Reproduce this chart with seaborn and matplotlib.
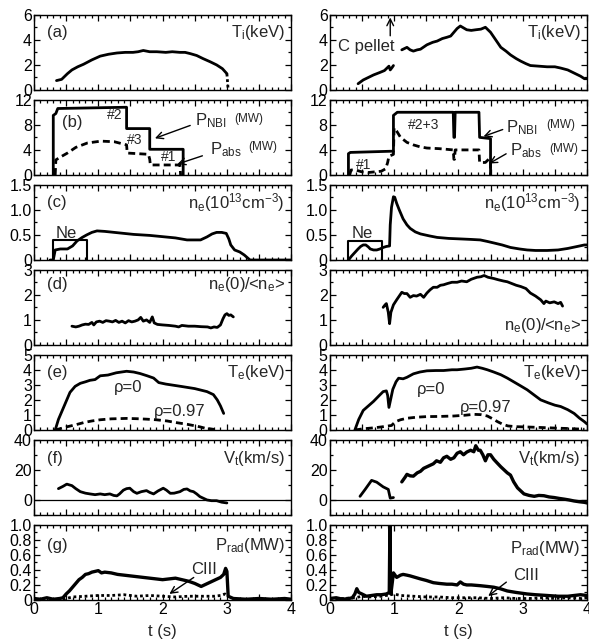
import matplotlib

matplotlib.use("Agg")
import matplotlib.pyplot as plt
import seaborn as sns
from matplotlib.ticker import FuncFormatter, MultipleLocator

sns.set_theme(style="ticks")
plt.rcParams["font.family"] = ["Liberation Sans", "DejaVu Sans"]
plt.rcParams["mathtext.fontset"] = "custom"
plt.rcParams["mathtext.rm"] = "Liberation Sans"
plt.rcParams["mathtext.it"] = "Liberation Sans:italic"

# ---------------- left shot ----------------
L_TI_T = [0.35, 0.43, 0.52, 0.59, 0.68, 0.77, 0.90, 1.03, 1.16, 1.29, 1.42, 1.54, 1.62, 1.70,
          1.80, 1.91, 2.05, 2.15, 2.27, 2.35, 2.43, 2.53, 2.63, 2.74, 2.84, 2.93, 3.00]
L_TI = [0.75, 0.85, 1.3, 1.6, 1.85, 2.05, 2.4, 2.7, 2.85, 2.95, 3.0, 3.0, 3.05, 3.15,
        3.05, 3.05, 3.0, 3.05, 3.0, 3.0, 2.9, 2.75, 2.5, 2.25, 2.0, 1.7, 1.3]
L_TI_END_T = [3.00, 3.02]
L_TI_END = [1.3, 0.0]

L_NBI_T = [0.30, 0.30, 0.34, 0.37, 1.44, 1.44, 1.80, 1.80, 2.32, 2.32]
L_NBI = [0.0, 9.5, 9.8, 10.6, 10.8, 7.4, 7.4, 4.1, 4.1, 0.0]
L_ABS_T = [0.33, 0.34, 0.40, 0.52, 0.65, 0.83, 1.04, 1.25, 1.44, 1.45, 1.78, 1.80, 1.81, 2.27, 2.28]
L_ABS = [0.0, 2.4, 2.8, 3.5, 4.4, 5.1, 5.4, 5.3, 4.8, 3.5, 3.3, 2.5, 1.6, 1.6, 0.0]

L_NE_T = [0.25, 0.30, 0.33, 0.41, 0.52, 0.60, 0.67, 0.75, 0.82, 0.90, 0.98, 1.10, 1.25, 1.55,
          1.80, 1.96, 2.20, 2.38, 2.59, 2.69, 2.77, 2.84, 2.92, 2.99, 3.03, 3.06, 3.12, 3.20,
          3.27, 3.36, 3.50, 4.00]
L_NE = [0.0, 0.0, 0.2, 0.22, 0.22, 0.28, 0.38, 0.45, 0.5, 0.55, 0.58, 0.57, 0.55, 0.51,
        0.49, 0.47, 0.44, 0.40, 0.40, 0.46, 0.52, 0.55, 0.55, 0.53, 0.42, 0.30, 0.20, 0.16,
        0.10, 0.0, 0.0, 0.0]
L_NEON_T = [0.30, 0.30, 0.82, 0.82]
L_NEON = [0.0, 0.39, 0.39, 0.0]

L_PK_T = [0.59, 0.65, 0.70, 0.75, 0.80, 0.85, 0.90, 0.93, 0.97, 1.02, 1.07, 1.12, 1.17, 1.22,
          1.27, 1.32, 1.37, 1.42, 1.47, 1.52, 1.57, 1.62, 1.66, 1.70, 1.75, 1.80, 1.84, 1.87,
          1.92, 2.00, 2.10, 2.20, 2.25, 2.30, 2.40, 2.50, 2.60, 2.70, 2.75, 2.80, 2.85, 2.90,
          2.94, 2.97, 3.00, 3.03, 3.06, 3.10]
L_PK = [0.75, 0.72, 0.75, 0.80, 0.83, 0.82, 0.90, 0.80, 0.92, 0.95, 0.90, 0.97, 0.95, 0.92,
        0.98, 0.90, 0.95, 0.88, 0.97, 0.92, 0.95, 1.00, 1.10, 0.95, 1.00, 0.90, 1.12, 0.88,
        0.82, 0.80, 0.78, 0.75, 0.72, 0.78, 0.75, 0.75, 0.73, 0.72, 0.68, 0.72, 0.70, 0.80,
        1.05, 1.20, 1.25, 1.18, 1.20, 1.12]

L_TE0_T = [0.33, 0.38, 0.46, 0.56, 0.64, 0.72, 0.80, 0.87, 0.95, 1.03, 1.15, 1.28, 1.44, 1.55,
           1.65, 1.76, 1.86, 1.94, 2.05, 2.28, 2.50, 2.69, 2.79, 2.85, 2.90, 2.95]
L_TE0 = [0.0, 0.7, 1.5, 2.5, 2.9, 3.1, 3.2, 3.3, 3.35, 3.6, 3.65, 3.8, 3.9, 3.85,
         3.75, 3.6, 3.45, 3.15, 3.05, 2.9, 2.75, 2.55, 2.35, 2.0, 1.6, 1.1]
L_TE97_T = [0.33, 0.40, 0.52, 0.65, 0.78, 0.90, 1.03, 1.20, 1.44, 1.60, 1.75, 1.90, 2.07, 2.20,
            2.38, 2.50, 2.59, 2.66, 2.74, 2.80]
L_TE97 = [0.0, 0.08, 0.22, 0.35, 0.5, 0.6, 0.68, 0.74, 0.77, 0.75, 0.72, 0.68, 0.6, 0.5,
          0.38, 0.28, 0.2, 0.12, 0.08, 0.04]

L_VT_T = [0.38, 0.45, 0.51, 0.55, 0.59, 0.65, 0.72, 0.80, 0.87, 0.95, 1.03, 1.10, 1.18, 1.24,
          1.29, 1.33, 1.39, 1.44, 1.49, 1.55, 1.60, 1.67, 1.75, 1.80, 1.86, 1.93, 2.01, 2.06,
          2.12, 2.18, 2.27, 2.33, 2.38, 2.43, 2.48, 2.53, 2.58, 2.64, 2.69, 2.76, 2.84, 2.92, 3.00]
L_VT = [7.5, 9, 10.5, 10, 9.5, 7.5, 5.5, 4.5, 4, 3.5, 4, 3.5, 4, 3,
        2.7, 4, 6.5, 7.5, 7.8, 5.5, 4.4, 5.5, 6.2, 5, 4, 6, 7.8, 6.5,
        4.4, 4.5, 5.5, 7, 7.3, 6, 5.5, 4, 2.2, 1, 0, -0.5, -0.5, -1.5, -2]

L_PRAD_T = [0.0, 0.1, 0.2, 0.3, 0.4, 0.45, 0.5, 0.55, 0.6, 0.65, 0.7, 0.75, 0.8, 0.85, 0.9,
            0.95, 1.0, 1.05, 1.1, 1.2, 1.3, 1.4, 1.5, 1.6, 1.7, 1.8, 1.9, 2.0, 2.1, 2.2, 2.3,
            2.4, 2.5, 2.55, 2.6, 2.65, 2.7, 2.75, 2.8, 2.85, 2.9, 2.95, 2.98, 3.0, 3.02, 3.1,
            3.3, 3.5, 3.7, 3.9, 4.0]
L_PRAD = [0.02, 0.01, 0.03, 0.01, 0.02, 0.03, 0.08, 0.12, 0.17, 0.22, 0.27, 0.30, 0.34, 0.35,
          0.37, 0.38, 0.39, 0.36, 0.37, 0.36, 0.34, 0.33, 0.32, 0.31, 0.30, 0.29, 0.28, 0.27,
          0.28, 0.29, 0.27, 0.25, 0.22, 0.20, 0.18, 0.20, 0.22, 0.24, 0.26, 0.28, 0.30, 0.34,
          0.42, 0.38, 0.05, 0.02, 0.01, 0.02, 0.01, 0.02, 0.01]
L_CIII_T = [0.45, 0.5, 0.6, 0.8, 1.0, 1.2, 1.4, 1.6, 1.8, 2.0, 2.2, 2.4, 2.6, 2.8, 2.9, 2.97, 3.0]
L_CIII = [0.0, 0.02, 0.04, 0.05, 0.06, 0.06, 0.07, 0.05, 0.06, 0.05, 0.04, 0.05, 0.05, 0.05,
          0.06, 0.08, 0.05]

# ---------------- right shot ----------------
R_TI1_T = [0.44, 0.52, 0.60, 0.68, 0.78, 0.85, 0.88, 0.92, 0.94, 0.97, 0.99]
R_TI1 = [0.5, 0.8, 1.0, 1.2, 1.4, 1.55, 1.7, 1.9, 1.6, 1.8, 1.95]
R_TI2_T = [1.12, 1.20, 1.25, 1.30, 1.36, 1.41, 1.51, 1.60, 1.67, 1.75, 1.82, 1.88, 1.93, 1.98,
           2.03, 2.08, 2.13, 2.20, 2.27, 2.35, 2.42, 2.46, 2.50, 2.58, 2.66, 2.74, 2.81, 2.90,
           2.97, 3.05, 3.12, 3.25, 3.38, 3.50, 3.59, 3.70, 3.80, 3.90, 3.96, 4.00]
R_TI2 = [3.2, 3.4, 3.2, 3.1, 3.2, 3.25, 3.6, 3.8, 3.9, 4.1, 4.2, 4.3, 4.6, 4.9,
         5.1, 4.95, 4.8, 4.75, 4.8, 4.85, 5.0, 4.8, 4.6, 4.0, 3.4, 3.1, 2.8, 2.5,
         2.3, 2.1, 1.95, 1.9, 1.85, 1.85, 1.75, 1.6, 1.35, 1.1, 0.9, 0.9]

R_NBI_T = [0.29, 0.29, 0.32, 0.99, 0.99, 1.05, 1.92, 1.93, 1.94, 1.95, 2.32, 2.33, 2.50, 2.50]
R_NBI = [0.0, 3.4, 3.6, 3.8, 9.5, 10.0, 10.0, 6.0, 6.0, 10.0, 10.0, 6.0, 5.8, 0.0]
R_ABS_T = [0.31, 0.33, 0.40, 0.50, 0.60, 0.70, 0.80, 0.87, 0.90, 0.92, 0.97, 0.99, 1.00, 1.04,
           1.10, 1.20, 1.30, 1.40, 1.51, 1.70, 1.92, 1.93, 1.94, 1.95, 2.10, 2.32, 2.33, 2.42,
           2.47, 2.50, 2.50]
R_ABS = [0.0, 0.8, 0.8, 0.5, 0.4, 0.5, 0.6, 1.0, 2.0, 3.0, 3.2, 3.3, 7.5, 7.0,
         6.0, 5.2, 4.8, 4.5, 4.3, 4.2, 4.0, 2.5, 2.5, 4.0, 4.0, 4.0, 2.0, 2.0,
         2.5, 2.5, 0.0]

R_NE_T = [0.29, 0.34, 0.39, 0.44, 0.48, 0.52, 0.56, 0.60, 0.63, 0.68, 0.73, 0.78, 0.83, 0.88,
          0.93, 0.94, 0.96, 0.99, 1.01, 1.04, 1.08, 1.14, 1.20, 1.25, 1.33, 1.41, 1.55, 1.67,
          1.85, 2.03, 2.20, 2.34, 2.45, 2.55, 2.68, 2.81, 2.95, 3.07, 3.20, 3.38, 3.55, 3.70,
          3.85, 3.96, 4.00]
R_NE = [0.0, 0.08, 0.15, 0.22, 0.27, 0.30, 0.30, 0.26, 0.22, 0.20, 0.20, 0.22, 0.25, 0.27,
        0.28, 0.70, 1.05, 1.26, 1.25, 1.13, 1.00, 0.82, 0.70, 0.63, 0.56, 0.52, 0.48, 0.45,
        0.43, 0.42, 0.41, 0.40, 0.37, 0.34, 0.30, 0.25, 0.22, 0.20, 0.19, 0.19, 0.20, 0.23,
        0.27, 0.30, 0.30]
R_NEON_T = [0.29, 0.29, 0.81, 0.81]
R_NEON = [0.0, 0.38, 0.38, 0.0]

R_PK_T = [0.83, 0.86, 0.88, 0.91, 0.93, 0.95, 0.99, 1.04, 1.08, 1.12, 1.16, 1.20, 1.25, 1.30,
          1.35, 1.41, 1.46, 1.51, 1.56, 1.61, 1.67, 1.72, 1.77, 1.83, 1.90, 1.98, 2.05, 2.13,
          2.20, 2.29, 2.35, 2.40, 2.46, 2.55, 2.62, 2.70, 2.76, 2.83, 2.90, 2.97, 3.05, 3.12,
          3.20, 3.28, 3.33, 3.36, 3.42, 3.49, 3.55, 3.59, 3.62]
R_PK = [1.5, 1.6, 1.65, 1.3, 0.85, 1.3, 1.6, 1.8, 1.95, 2.1, 2.05, 2.05, 1.9, 1.97,
        1.95, 2.02, 1.9, 2.07, 2.2, 2.3, 2.3, 2.38, 2.4, 2.45, 2.5, 2.5, 2.55, 2.52,
        2.62, 2.7, 2.72, 2.77, 2.7, 2.65, 2.6, 2.55, 2.52, 2.45, 2.38, 2.33, 2.25, 2.07,
        1.95, 1.8, 1.65, 1.75, 1.68, 1.72, 1.65, 1.7, 1.55]

R_TE0_T = [0.39, 0.45, 0.52, 0.60, 0.68, 0.76, 0.83, 0.88, 0.90, 0.92, 0.95, 0.98, 1.03, 1.07,
           1.14, 1.20, 1.30, 1.40, 1.51, 1.65, 1.77, 1.90, 1.98, 2.10, 2.20, 2.29, 2.37, 2.45,
           2.55, 2.66, 2.76, 2.86, 2.96, 3.07, 3.17, 3.28, 3.40, 3.50, 3.59, 3.70, 3.80, 3.88,
           3.96, 4.00]
R_TE0 = [0.0, 0.7, 1.3, 1.6, 1.9, 2.25, 2.55, 2.6, 2.3, 1.5, 2.1, 2.7, 3.2, 3.44,
         3.4, 3.5, 3.73, 3.85, 3.93, 3.95, 3.95, 4.0, 4.0, 4.05, 4.1, 4.18, 4.1, 4.0,
         3.85, 3.67, 3.45, 3.2, 2.95, 2.67, 2.35, 2.0, 1.8, 1.65, 1.56, 1.35, 1.1, 0.8,
         0.55, 0.4]
R_TE97_T = [0.39, 0.52, 0.70, 0.83, 0.96, 1.02, 1.10, 1.20, 1.35, 1.51, 1.70, 1.93, 2.10, 2.24,
            2.35, 2.45, 2.53, 2.61, 2.69, 2.77, 2.90, 3.07, 3.20, 3.38, 3.55, 3.70, 3.85, 3.96]
R_TE97 = [0.0, 0.08, 0.15, 0.22, 0.3, 0.55, 0.68, 0.78, 0.85, 0.89, 0.9, 0.93, 0.98, 1.04,
          1.02, 0.93, 0.75, 0.55, 0.38, 0.27, 0.22, 0.2, 0.18, 0.15, 0.12, 0.1, 0.07, 0.05]

R_VT1_T = [0.47, 0.55, 0.65, 0.73, 0.83, 0.91, 0.94, 0.99]
R_VT1 = [2.4, 7, 13, 11.8, 8.7, 7, 1.2, 1.6]
R_VT2_T = [1.12, 1.17, 1.20, 1.25, 1.30, 1.36, 1.41, 1.46, 1.51, 1.56, 1.61, 1.66, 1.72, 1.77,
           1.82, 1.88, 1.93, 1.98, 2.03, 2.08, 2.13, 2.19, 2.24, 2.27, 2.31, 2.34, 2.38, 2.42,
           2.46, 2.50, 2.55, 2.60, 2.66, 2.71, 2.76, 2.81, 2.86, 2.92, 2.97, 3.02, 3.10, 3.18,
           3.25, 3.33, 3.41, 3.49, 3.57, 3.65, 3.72, 3.80, 3.88, 3.96, 4.00]
R_VT2 = [12, 15, 17, 16, 15.8, 18, 19, 21, 22, 23, 24, 26, 25, 28,
         29, 27, 28, 31, 32, 30, 31.8, 33, 32, 36, 33, 33, 30, 26,
         30, 30, 27, 24.7, 22, 20, 18, 16.5, 12, 8, 6, 4, 3, 2.4,
         3, 2.8, 2, 1.6, 1, 0.5, 0, -0.7, -1.2, -1.6, -2]

R_PRAD_T = [0.0, 0.1, 0.2, 0.3, 0.35, 0.39, 0.42, 0.45, 0.50, 0.57, 0.65, 0.73, 0.80, 0.88,
            0.925, 0.935, 0.945, 0.95, 0.99, 1.04, 1.10, 1.14, 1.20, 1.25, 1.33, 1.41, 1.50,
            1.61, 1.70, 1.82, 1.90, 1.98, 2.03, 2.08, 2.13, 2.20, 2.34, 2.45, 2.55, 2.65, 2.76,
            2.90, 3.07, 3.20, 3.38, 3.55, 3.70, 3.80, 3.90, 4.00]
R_PRAD = [0.02, 0.03, 0.01, 0.02, 0.03, 0.08, 0.15, 0.10, 0.08, 0.05, 0.06, 0.07, 0.07, 0.08,
          0.10, 1.0, 0.10, 0.08, 0.36, 0.30, 0.33, 0.34, 0.33, 0.32, 0.30, 0.28, 0.26,
          0.23, 0.22, 0.21, 0.21, 0.20, 0.24, 0.21, 0.20, 0.20, 0.19, 0.18, 0.17, 0.15, 0.12,
          0.10, 0.08, 0.07, 0.06, 0.05, 0.05, 0.06, 0.07, 0.06]
R_CIII_T = [0.0, 0.2, 0.4, 0.5, 0.6, 0.8, 0.95, 1.0, 1.1, 1.3, 1.5, 1.7, 1.9, 2.1, 2.3, 2.5,
            2.7, 2.9, 3.1, 3.3, 3.5, 3.7, 3.9, 4.0]
R_CIII = [0.01, 0.02, 0.03, 0.05, 0.04, 0.05, 0.07, 0.08, 0.06, 0.05, 0.04, 0.04, 0.03, 0.03,
          0.03, 0.02, 0.03, 0.02, 0.02, 0.03, 0.02, 0.03, 0.02, 0.03]

# y-axis setup per row
ROW_YLIM = [(0, 6), (0, 12), (0, 1.5), (0, 3), (0, 5), (-10, 40), (0, 1.0)]
ROW_YTICKS = [[0, 2, 4, 6], [0, 4, 8, 12], [0, 0.5, 1.0, 1.5], [0, 1, 2, 3],
              [0, 1, 2, 3, 4, 5], [0, 20, 40], [0, 0.2, 0.4, 0.6, 0.8, 1.0]]
ROW_YLABELS = [["0", "2", "4", "6"], ["0", "4", "8", "12"], ["0", "0.5", "1.0", "1.5"],
               ["0", "1", "2", "3"], ["0", "1", "2", "3", "4", "5"], ["0", "20", "40"],
               ["0", "0.2", "0.4", "0.6", "0.8", "1.0"]]
ROW_YMINOR = [1, 2, 0.25, 0.5, 1, 10, 0.1]
PANEL_TAGS = ["(a)", "(b)", "(c)", "(d)", "(e)", "(f)", "(g)"]

LW = 2.0
FS = 12
TICK_FS = 11.5


def line(ax, t, v, dashed=False, lw=LW, dotted=False):
    ls = "-"
    if dashed:
        ls = (0, (2.5, 1.5))
    if dotted:
        ls = (0, (1, 1))
    sns.lineplot(x=t, y=v, ax=ax, color="black", lw=lw, linestyle=ls,
                 estimator=None, sort=False, legend=False)


def arrow(ax, head, tail):
    ax.annotate("", xy=head, xytext=tail,
                arrowprops=dict(arrowstyle="->", lw=1.0, color="black"))


def style_axis(ax, row):
    ax.set_xlim(0, 4)
    ax.set_ylim(*ROW_YLIM[row])
    ax.set_yticks(ROW_YTICKS[row], ROW_YLABELS[row])
    ax.yaxis.set_minor_locator(MultipleLocator(ROW_YMINOR[row]))
    ax.xaxis.set_major_locator(MultipleLocator(0.5))
    ax.xaxis.set_minor_locator(MultipleLocator(0.1))
    ax.xaxis.set_major_formatter(FuncFormatter(lambda v, p: f"{v:g}" if v == int(v) else ""))
    ax.tick_params(which="both", direction="in", top=True, right=True,
                   labelsize=TICK_FS, pad=1.5, colors="black")
    ax.tick_params(which="major", length=4.5, width=0.9)
    ax.tick_params(which="minor", length=2.5, width=0.9)
    for s in ax.spines.values():
        s.set_linewidth(1.0)
        s.set_color("black")
    ax.set_xlabel("")
    ax.set_ylabel("")
    if row < 6:
        ax.tick_params(labelbottom=False)
    else:
        ax.set_xlabel("t (s)", fontsize=FS, labelpad=5)


fig = plt.figure(figsize=(5.89, 6.4), dpi=100)
gs = fig.add_gridspec(7, 2, left=0.0577, right=0.9966, top=0.977, bottom=0.0625,
                      hspace=0.129, wspace=0.15)
axes = [[fig.add_subplot(gs[r, c]) for c in range(2)] for r in range(7)]

# (a) Ti
ax = axes[0][0]
line(ax, L_TI_T, L_TI)
line(ax, L_TI_END_T, L_TI_END, dotted=True)
ax = axes[0][1]
line(ax, R_TI1_T, R_TI1)
line(ax, R_TI2_T, R_TI2)
ax.text(0.57, 3.5, "C pellet", fontsize=FS, ha="center", va="center")
arrow(ax, (0.94, 6.0), (0.94, 4.1))

# (b) NBI
for c, (nt, nv, at, av) in enumerate([(L_NBI_T, L_NBI, L_ABS_T, L_ABS),
                                      (R_NBI_T, R_NBI, R_ABS_T, R_ABS)]):
    ax = axes[1][c]
    line(ax, nt, nv)
    line(ax, at, av, dashed=True)

ax = axes[1][0]
ax.text(1.26, 9.6, "#2", fontsize=10, ha="center", va="center")
ax.text(1.57, 5.5, "#3", fontsize=10, ha="center", va="center")
ax.text(2.09, 2.8, "#1", fontsize=10, ha="center", va="center")
arrow(ax, (1.84, 5.7), (2.47, 8.05))
arrow(ax, (2.19, 1.6), (2.66, 3.2))
ax.text(2.50, 8.7, r"P$_\mathrm{NBI}$", fontsize=FS, ha="left", va="center")
ax.text(3.12, 9.0, "(MW)", fontsize=8.5, ha="left", va="center")
ax.text(2.74, 4.1, r"P$_\mathrm{abs}$", fontsize=FS, ha="left", va="center")
ax.text(3.33, 4.4, "(MW)", fontsize=8.5, ha="left", va="center")

ax = axes[1][1]
ax.text(0.52, 1.6, "#1", fontsize=10, ha="center", va="center")
ax.text(1.46, 8.0, "#2+3", fontsize=10, ha="center", va="center")
arrow(ax, (2.35, 6.0), (2.73, 7.4))
arrow(ax, (2.44, 1.6), (2.78, 3.6))
ax.text(2.74, 7.6, r"P$_\mathrm{NBI}$", fontsize=FS, ha="left", va="center")
ax.text(3.36, 7.9, "(MW)", fontsize=8.5, ha="left", va="center")
ax.text(2.80, 3.9, r"P$_\mathrm{abs}$", fontsize=FS, ha="left", va="center")
ax.text(3.41, 4.2, "(MW)", fontsize=8.5, ha="left", va="center")

# (c) ne
for c, (t, v, bt, bv) in enumerate([(L_NE_T, L_NE, L_NEON_T, L_NEON),
                                    (R_NE_T, R_NE, R_NEON_T, R_NEON)]):
    ax = axes[2][c]
    line(ax, t, v)
    line(ax, bt, bv, lw=1.5)
    ax.text(0.5, 0.53, "Ne", fontsize=FS, ha="center", va="center")

# (d) peaking
line(axes[3][0], L_PK_T, L_PK)
line(axes[3][1], R_PK_T, R_PK)

# (e) Te
for c, (t0, v0, t9, v9) in enumerate([(L_TE0_T, L_TE0, L_TE97_T, L_TE97),
                                      (R_TE0_T, R_TE0, R_TE97_T, R_TE97)]):
    ax = axes[4][c]
    line(ax, t0, v0)
    line(ax, t9, v9, dashed=True)
axes[4][0].text(1.46, 2.8, "ρ=0", fontsize=FS, ha="center", va="center")
axes[4][0].text(2.27, 1.25, "ρ=0.97", fontsize=FS, ha="center", va="center")
axes[4][1].text(1.58, 2.7, "ρ=0", fontsize=FS, ha="center", va="center")
axes[4][1].text(2.43, 1.5, "ρ=0.97", fontsize=FS, ha="center", va="center")

# (f) Vt
for c in range(2):
    axes[5][c].axhline(0, color="black", lw=0.9)
line(axes[5][0], L_VT_T, L_VT)
line(axes[5][1], R_VT1_T, R_VT1)
line(axes[5][1], R_VT2_T, R_VT2, lw=2.4)

# (g) Prad
line(axes[6][0], L_PRAD_T, L_PRAD, lw=2.4)
line(axes[6][0], L_CIII_T, L_CIII, dotted=True, lw=2.0)
line(axes[6][1], R_PRAD_T, R_PRAD, lw=2.4)
line(axes[6][1], R_CIII_T, R_CIII, dotted=True, lw=2.0)
axes[6][0].text(2.65, 0.41, "CIII", fontsize=FS, ha="center", va="center")
arrow(axes[6][0], (2.07, 0.06), (2.52, 0.32))
axes[6][1].text(3.05, 0.33, "CIII", fontsize=FS, ha="center", va="center")
arrow(axes[6][1], (2.43, 0.03), (2.78, 0.26))

# quantity labels in upper right corners
QTY = [r"T$_\mathrm{i}$(keV)", None, r"n$_\mathrm{e}$(10$^{13}$cm$^{-3}$)",
       r"n$_\mathrm{e}$(0)/<n$_\mathrm{e}$>", r"T$_\mathrm{e}$(keV)",
       r"V$_\mathrm{t}$(km/s)", r"P$_\mathrm{rad}$(MW)"]
QTY_Y = [0.77, 0.70, 0.76, 0.8, 0.76, 0.75, 0.73]
TAG_X = [0.05, 0.11, 0.05, 0.05, 0.05, 0.05, 0.05]
for r in range(7):
    for c in range(2):
        ax = axes[r][c]
        style_axis(ax, r)
        if QTY[r] is not None:
            y = QTY_Y[r]
            if c == 1 and r == 3:
                y = 0.26
            if c == 1 and r == 6:
                y = 0.68
            ax.text(0.975, y, QTY[r], transform=ax.transAxes, fontsize=FS,
                    ha="right", va="center")
    axes[r][0].text(TAG_X[r], QTY_Y[r], PANEL_TAGS[r],
                    transform=axes[r][0].transAxes, fontsize=FS, ha="left", va="center")

fig.savefig("out.png", dpi=100)
